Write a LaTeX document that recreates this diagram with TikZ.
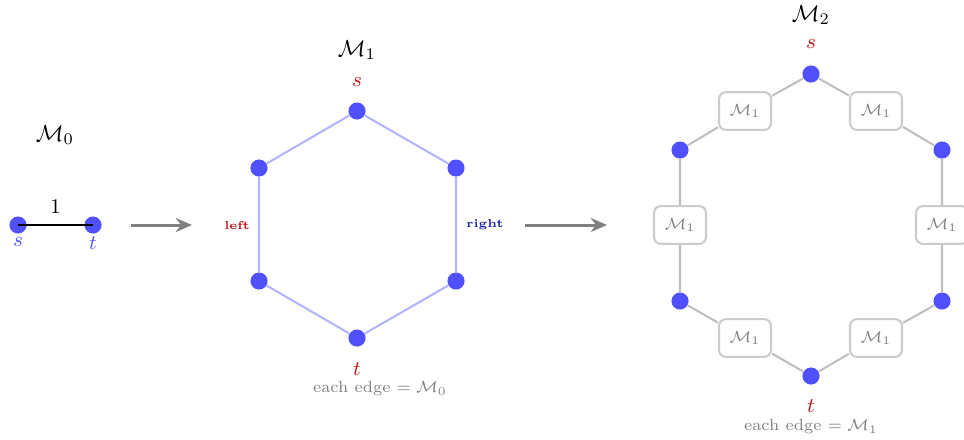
\documentclass[tikz,border=0pt]{standalone}
\usetikzlibrary{arrows.meta}
\definecolor{nodeblue}{RGB}{80,80,255}
\definecolor{edgeblue}{RGB}{180,180,255}
\definecolor{lblred}{RGB}{190,20,20}
\definecolor{lbldblue}{RGB}{30,30,170}
\begin{document}
\begin{tikzpicture}[x=0.0152cm,y=-0.0152cm,
  dot/.style={circle,fill=nodeblue,inner sep=0pt,minimum size=0.26cm},
  mbox/.style={draw=gray!40,rounded corners=3pt,fill=white,minimum width=0.79cm,minimum height=0.575cm,inner sep=0pt,text=gray,font=\scriptsize,line width=0.9pt},
  hexedge/.style={draw=edgeblue,line width=0.9pt},
  greyedge/.style={draw=gray!50,line width=0.9pt},
  bigarrow/.style={draw=gray,line width=1.3pt,-{Stealth[length=7pt,width=6pt]}},
  title/.style={font=\normalsize},
  redlbl/.style={text=lblred,font=\small},
  note/.style={text=gray,font=\scriptsize}]
\useasboundingbox (0,0) rectangle (964,439);
% M0
\node[title] (t0) at (55,135) {$\mathcal{M}_0$};
\node[dot] (a0) at (18,225) {};
\node[dot] (b0) at (93,225) {};
\draw[black,line width=0.9pt] (a0.center) -- node[above=1pt,font=\small] {1} (b0.center);
\node[text=nodeblue,font=\small] (as) at (18,242) {$s$};
\node[text=nodeblue,font=\small] (bt) at (93,243) {$t$};
% arrow 1
\coordinate (r1a) at (131,225);
\coordinate (r1b) at (192,225);
\draw[bigarrow] (r1a) -- (r1b);
% M1
\node[title] (t1) at (357,50) {$\mathcal{M}_1$};
\node[redlbl] (s1) at (357,82) {$s$};
\node[dot] (h1) at (357,111) {};
\node[dot] (h2) at (259,168) {};
\node[dot] (h3) at (456,168) {};
\node[dot] (h4) at (259,281) {};
\node[dot] (h5) at (456,281) {};
\node[dot] (h6) at (357,338) {};
\draw[hexedge] (h1) -- (h2) -- (h4) -- (h6) -- (h5) -- (h3) -- (h1);
\node[text=lblred,font=\tiny\bfseries] (lft) at (237,225) {left};
\node[text=lbldblue,font=\tiny\bfseries] (rgt) at (485,225) {right};
\node[redlbl] (t1l) at (357,369) {$t$};
\node[note] (n1) at (380,389) {each edge $=\mathcal{M}_0$};
% arrow 2
\coordinate (r2a) at (525,225);
\coordinate (r2b) at (607,225);
\draw[bigarrow] (r2a) -- (r2b);
% M2
\node[title] (t2) at (811,15) {$\mathcal{M}_2$};
\node[redlbl] (s2) at (811,44) {$s$};
\node[dot] (g1) at (811,74) {};
\node[dot] (g2) at (680,150) {};
\node[dot] (g3) at (942,150) {};
\node[dot] (g4) at (680,301) {};
\node[dot] (g5) at (942,301) {};
\node[dot] (g6) at (811,376) {};
\node[mbox] (m12) at (745,111) {$\mathcal{M}_1$};
\node[mbox] (m13) at (876,111) {$\mathcal{M}_1$};
\node[mbox] (m24) at (680,225) {$\mathcal{M}_1$};
\node[mbox] (m35) at (942,225) {$\mathcal{M}_1$};
\node[mbox] (m46) at (745,338) {$\mathcal{M}_1$};
\node[mbox] (m56) at (876,338) {$\mathcal{M}_1$};
\draw[greyedge] (g1) -- (m12) -- (g2) -- (m24) -- (g4) -- (m46) -- (g6) -- (m56) -- (g5) -- (m35) -- (g3) -- (m13) -- (g1);
\node[redlbl] (t2l) at (811,406) {$t$};
\node[note] (n2) at (811,427) {each edge $=\mathcal{M}_1$};
\end{tikzpicture}
\end{document}
